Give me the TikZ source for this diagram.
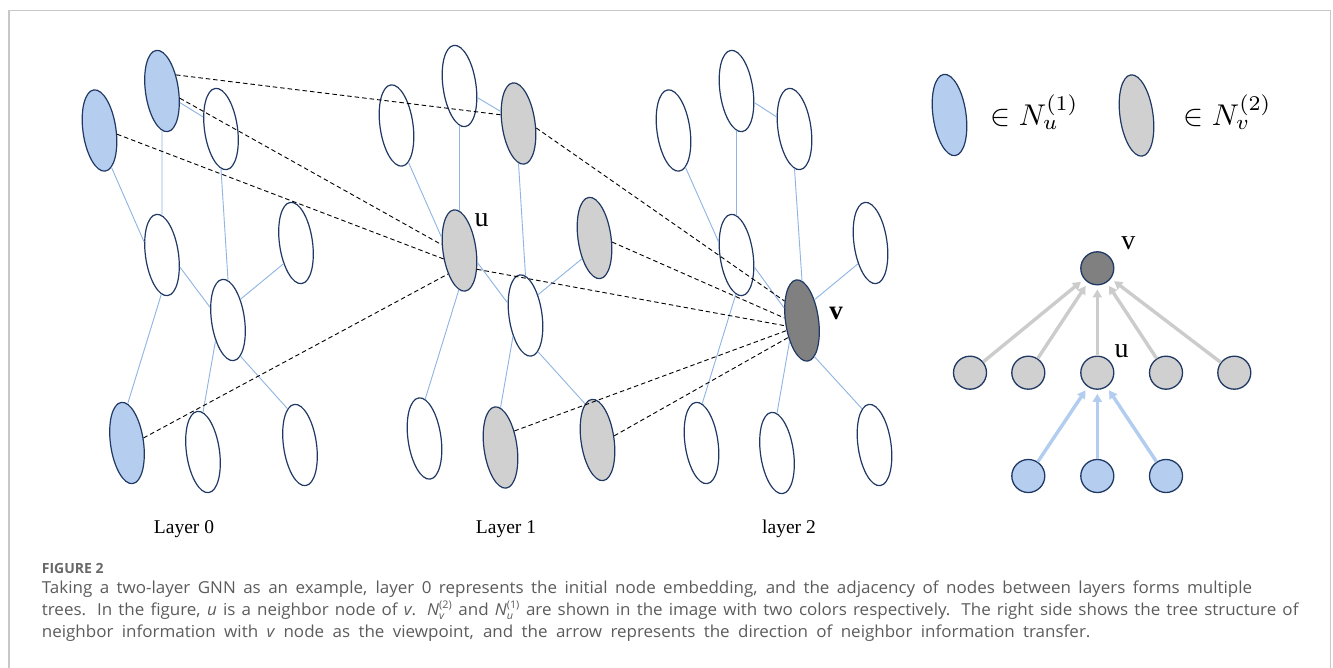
\documentclass[tikz,border=0pt]{standalone}
\usepackage{fontspec}
\setmainfont{Liberation Serif}
\newfontfamily\capfont{Open Sans}
\usetikzlibrary{shapes.geometric,arrows.meta}

\definecolor{navy}{RGB}{31,56,100}
\definecolor{nbblue}{RGB}{181,206,240}
\definecolor{ngray}{RGB}{208,208,208}
\definecolor{ndark}{RGB}{128,128,128}
\definecolor{edgeblue}{RGB}{142,180,227}
\definecolor{arrgray}{RGB}{204,204,204}
\definecolor{arrblue}{RGB}{178,205,240}
\definecolor{framegray}{RGB}{200,200,200}
\definecolor{captext}{RGB}{92,92,92}
\definecolor{capfig}{RGB}{105,105,105}

% script pair for the caption (superscript over subscript)
\newcommand{\capss}[2]{\ensuremath{^{\mbox{\fontsize{10.5}{11}\selectfont #1}}_{\mbox{\fontsize{10.5}{11}\selectfont\itshape #2}}}}
% one caption line spread to a fixed width
\newcommand{\capbox}[2]{\hbox to #1pt{#2}}

\begin{document}
\begin{tikzpicture}[x=1pt,y=-1pt,
  gn/.style={ellipse, draw=navy, line width=1.2pt, minimum width=33pt,
             minimum height=82pt, inner sep=0pt, rotate=8},
  wn/.style={gn, fill=white},
  bn/.style={gn, fill=nbblue},
  gr/.style={gn, fill=ngray},
  dk/.style={gn, fill=ndark},
  link/.style={draw=edgeblue, line width=0.9pt},
  hop/.style={draw=black, line width=0.9pt, dash pattern=on 4.5pt off 3pt},
  tn/.style={circle, draw=navy, line width=1.3pt, minimum size=33pt, inner sep=0pt},
  garrow/.style={draw=arrgray, line width=3.4pt, -{Triangle[length=8pt,width=9pt]}, shorten >=4pt},
  barrow/.style={draw=arrblue, line width=3.4pt, -{Triangle[length=8pt,width=9pt]}, shorten >=4pt},
  lab/.style={font=\fontsize{28}{30}\selectfont, inner sep=0pt},
  layerlab/.style={font=\fontsize{19.5}{22}\selectfont, anchor=base, inner sep=0pt},
  keytext/.style={anchor=base west, inner sep=0pt, scale=3, font=\fontsize{10}{12}\selectfont},
  capline/.style={font=\capfont\fontsize{16.5}{20}\selectfont, text=captext, anchor=base west, inner sep=0pt, xscale=1.03},
]
\useasboundingbox (0,0) rectangle (1333,668);
\fill[white] (0,0) rectangle (1333,668);
% frame
\draw[framegray, line width=1.2pt] (9,700) -- (9,10.5) -- (1330.5,10.5) -- (1330.5,700);

% ---------- layer 0 ----------
\node[bn] (A0) at (99.5,130.5) {};
\node[bn] (B0) at (162,91) {};
\node[wn] (C0) at (221,129) {};
\node[wn] (D0) at (162,255) {};
\node[wn] (E0) at (296,243) {};
\node[wn] (F0) at (228,320) {};
\node[bn] (G0) at (127,443) {};
\node[wn] (H0) at (203,452) {};
\node[wn] (I0) at (300,445) {};

% ---------- layer 1 ----------
\node[wn] (A1) at (396.5,125.5) {};
\node[wn] (B1) at (459.5,86) {};
\node[gr] (C1) at (518.5,123.5) {};
\node[gr] (U)  at (459.5,250.5) {};
\node[gr] (D1) at (594.5,238) {};
\node[wn] (E1) at (525.5,315.5) {};
\node[wn] (F1) at (424.5,438.5) {};
\node[gr] (G1) at (500.5,447.5) {};
\node[gr] (H1) at (597.5,440) {};

% ---------- layer 2 ----------
\node[wn] (A2) at (673.5,130.5) {};
\node[wn] (B2) at (736.5,91) {};
\node[wn] (C2) at (794.5,129) {};
\node[wn] (D2) at (736.5,255) {};
\node[wn] (E2) at (870.5,243) {};
\node[dk] (V)  at (802,320.5) {};
\node[wn] (F2) at (701.5,443) {};
\node[wn] (G2) at (777,453) {};
\node[wn] (H2) at (874.5,445) {};

% adjacency inside each layer
\draw[link] (B0.-41) -- (C0.138);
\draw[link] (B0.-98) -- (D0.82);
\draw[link] (A0.-80) -- (D0.136);
\draw[link] (C0.-98) -- (F0.82);
\draw[link] (D0.-42) -- (F0.137);
\draw[link] (F0.51)  -- (E0.231);
\draw[link] (D0.-99) -- (G0.81);
\draw[link] (F0.231) -- (H0.82);
\draw[link] (F0.-79) -- (I0.101);

\draw[link] (B1.-41) -- (C1.138);
\draw[link] (B1.-98) -- (U.82);
\draw[link] (A1.-80) -- (U.136);
\draw[link] (C1.-98) -- (E1.82);
\draw[link] (U.-42)  -- (E1.137);
\draw[link] (E1.51)  -- (D1.231);
\draw[link] (U.-99)  -- (F1.81);
\draw[link] (E1.231) -- (G1.82);
\draw[link] (E1.-79) -- (H1.101);

\draw[link] (B2.-41) -- (C2.138);
\draw[link] (B2.-98) -- (D2.82);
\draw[link] (A2.-80) -- (D2.136);
\draw[link] (C2.-98) -- (V.82);
\draw[link] (D2.-42) -- (V.137);
\draw[link] (V.51)   -- (E2.231);
\draw[link] (D2.-99) -- (F2.81);
\draw[link] (V.231)  -- (G2.82);
\draw[link] (V.-79)  -- (H2.101);

% links between layers
\draw[hop] (B0.41)  -- (C1.146);
\draw[hop] (B0.-30) -- (U.154);
\draw[hop] (A0.-20) -- (U.200);
\draw[hop] (G0.9)   -- (U.236);
\draw[hop] (C1.-22) -- (V.124);
\draw[hop] (D1.-21) -- (V.164);
\draw[hop] (U.-55)  -- (V.190);
\draw[hop] (G1.42)  -- (V.205);
\draw[hop] (H1.6)   -- (V.223);

\node[lab] (ulab) at (481.5,220.5) {u};
\node[lab, font=\fontsize{27}{30}\selectfont\bfseries] (vlab) at (836,313) {v};

\node[layerlab] (L0) at (184,533) {Layer 0};
\node[layerlab] (L1) at (506,533) {Layer 1};
\node[layerlab] (L2) at (789,533) {layer 2};

% ---------- legend ----------
\node[bn] (key1) at (949.5,115) {};
\node[keytext] (key1t) at (990,126) {$\in N_u^{(1)}$};
\node[gr] (key2) at (1136.5,115.5) {};
\node[keytext] (key2t) at (1183,126) {$\in N_v^{(2)}$};

% ---------- tree rooted at v ----------
\node[tn, fill=ndark] (vt) at (1097.3,268.3) {};
\node[tn, fill=ngray] (m1) at (970,372.7) {};
\node[tn, fill=ngray] (m2) at (1028.3,372.7) {};
\node[tn, fill=ngray] (ut) at (1097.3,372.7) {};
\node[tn, fill=ngray] (m4) at (1166,372.7) {};
\node[tn, fill=ngray] (m5) at (1234.3,372.7) {};
\node[tn, fill=nbblue] (b1) at (1028.3,476) {};
\node[tn, fill=nbblue] (b2) at (1097.3,476) {};
\node[tn, fill=nbblue] (b3) at (1166,476) {};

\draw[garrow] (m1) -- (vt);
\draw[garrow] (m2) -- (vt);
\draw[garrow] (ut) -- (vt);
\draw[garrow] (m4) -- (vt);
\draw[garrow] (m5) -- (vt);
\draw[barrow] (b1) -- (ut);
\draw[barrow] (b2) -- (ut);
\draw[barrow] (b3) -- (ut);

\node[lab] (vtl) at (1128.3,243.3) {v};
\node[lab] (utl) at (1121.7,351.7) {u};

% ---------- caption ----------
\node[capline, xscale=1/1.03, font=\capfont\bfseries\fontsize{14}{16}\selectfont, text=capfig] (fig) at (41.7,573) {FIGURE 2};
\node[capline] (c1) at (41.7,593) {\capbox{1175}{Taking a two-layer GNN as an example, layer 0 represents the initial node embedding, and the adjacency of nodes between layers forms multiple}};
\node[capline] (c2) at (41.7,615) {\capbox{1220}{trees. In the figure, \textit{u} is a neighbor node of \textit{v}. \textit{N}\capss{(2)}{v} and \textit{N}\capss{(1)}{u} are shown in the image with two colors respectively. The right side shows the tree structure of}};
\node[capline] (c3) at (41.7,637) {\capbox{1018}{neighbor information with \textit{v} node as the viewpoint, and the arrow represents the direction of neighbor information transfer.}};
\end{tikzpicture}
\end{document}
